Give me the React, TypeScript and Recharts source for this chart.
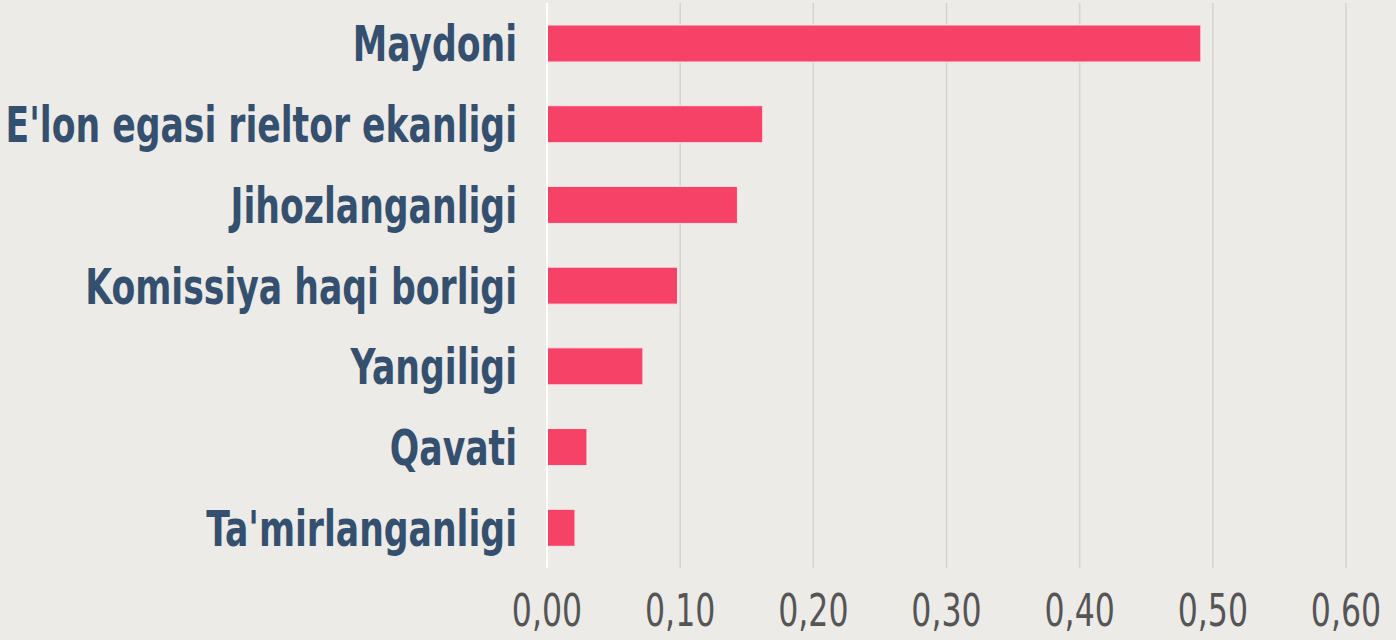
import { Bar, BarChart, CartesianGrid, XAxis, YAxis } from "recharts";

const factors = [
  "Maydoni",
  "E'lon egasi rieltor ekanligi",
  "Jihozlanganligi",
  "Komissiya haqi borligi",
  "Yangiligi",
  "Qavati",
  "Ta'mirlanganligi",
];

const importance = [0.491, 0.162, 0.143, 0.098, 0.072, 0.03, 0.021];

const xTicks = [0, 0.1, 0.2, 0.3, 0.4, 0.5, 0.6];

const chartData = factors.map((name, i) => ({ name, value: importance[i] }));

const labelFont = "'DejaVu Sans Condensed', 'DejaVu Sans', sans-serif";

// the original uses a narrow DIN-like face, so squeeze the text horizontally
const CategoryTick = ({ x, y, payload }: any) => (
  <g transform={`translate(${x},${y})`}>
    <text
      transform="scale(0.77,1)"
      textAnchor="end"
      dy="0.36em"
      fill="#35506f"
      fontSize={50}
      fontWeight={700}
      fontFamily={labelFont}
    >
      {payload.value}
    </text>
  </g>
);

const ValueTick = ({ x, y, payload }: any) => (
  <g transform={`translate(${x},${y})`}>
    <text
      transform="scale(0.78,1)"
      textAnchor="middle"
      dy="0.71em"
      fill="#555555"
      fontSize={45}
      fontFamily={labelFont}
    >
      {payload.value.toFixed(2).replace(".", ",")}
    </text>
  </g>
);

const App = () => {
  return (
    <div
      style={{
        position: "fixed",
        left: 0,
        top: 0,
        width: 1396,
        height: 640,
        background: "#ecebe8",
        overflow: "hidden",
      }}
    >
      <BarChart
        width={1396}
        height={640}
        data={chartData}
        layout="vertical"
        margin={{ top: 3, right: 50, bottom: 0, left: 0 }}
        barSize={37}
      >
        <CartesianGrid horizontal={false} stroke="#d3d3d1" strokeWidth={1.5} />
        <XAxis
          type="number"
          domain={[0, 0.6]}
          ticks={xTicks}
          axisLine={false}
          tickLine={false}
          tickSize={0}
          tickMargin={26}
          height={72}
          tick={<ValueTick />}
        />
        <YAxis
          type="category"
          dataKey="name"
          width={547}
          axisLine={{ stroke: "#ffffff", strokeWidth: 2 }}
          tickLine={false}
          tickSize={0}
          tickMargin={30}
          interval={0}
          tick={<CategoryTick />}
        />
        <Bar
          dataKey="value"
          fill="#f64266"
          stroke="#fbe3e8"
          strokeWidth={1}
          isAnimationActive={false}
        />
      </BarChart>
    </div>
  );
};

export default App;
